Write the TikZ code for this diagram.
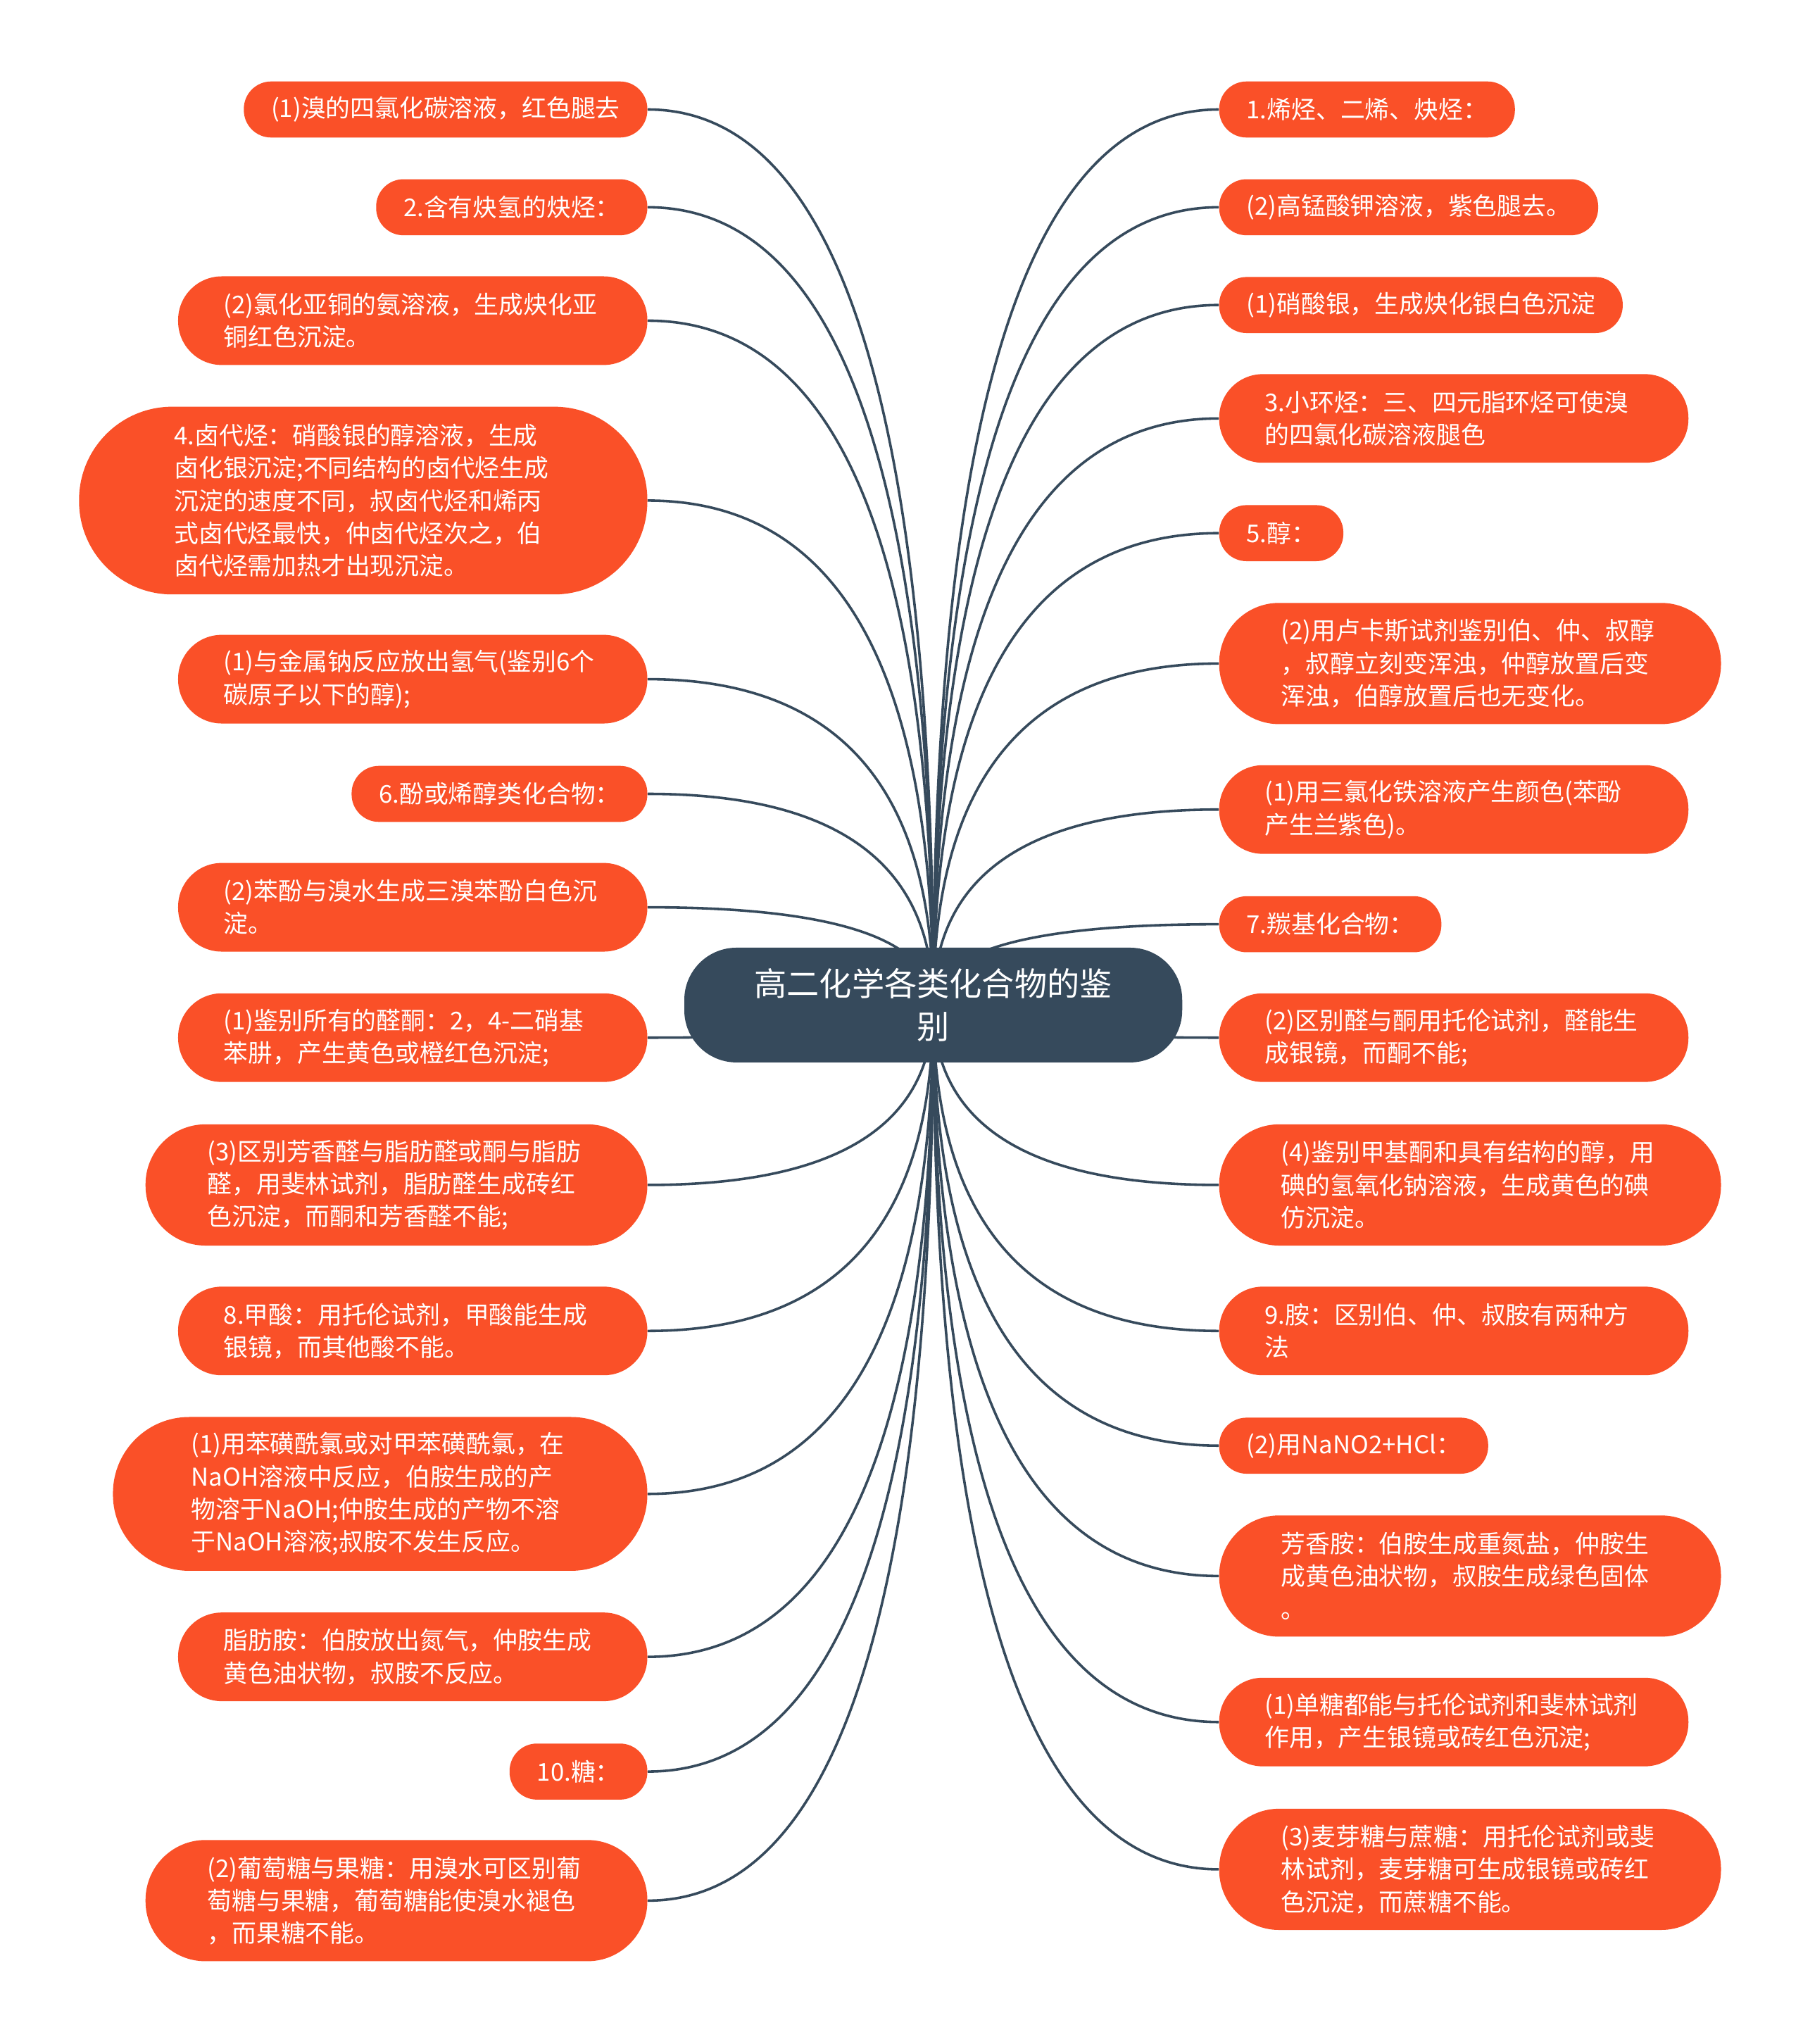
\documentclass[tikz,border=0pt]{standalone}
\usepackage{fontspec}
\setmainfont{Noto Sans CJK SC}
\usepackage{tikz}
\usetikzlibrary{calc,backgrounds}
\definecolor{leaforange}{HTML}{FA5028}
\definecolor{rootslate}{HTML}{364A5C}

\begin{document}
\begin{tikzpicture}[
    root/.style={rectangle, fill=rootslate, text=white, rounded corners=0.8cm, minimum width=7.64cm, minimum height=1.76cm, align=center, font=\fontsize{14.2pt}{18.8pt}\selectfont},
    leaf/.style={rectangle, fill=leaforange, text=white, align=left, inner ysep=0pt, font=\fontsize{10.7pt}{14.2pt}\selectfont},
    one/.style={leaf, minimum height=0.86cm, rounded corners=0.42cm, inner xsep=0.42cm},
    two/.style={leaf, minimum height=1.36cm, rounded corners=0.67cm, inner xsep=0.7cm, text width=5.8cm},
    three/.style={leaf, minimum height=1.86cm, rounded corners=0.92cm, inner xsep=0.95cm, text width=5.8cm},
    four/.style={leaf, minimum height=2.36cm, rounded corners=1.17cm, inner xsep=1.2cm, text width=5.8cm},
    five/.style={leaf, minimum height=2.88cm, rounded corners=1.43cm, inner xsep=1.46cm, text width=5.8cm},
    link/.style={draw=rootslate, line width=1.1pt, to path={.. controls ($(\tikztostart)!0.667!(\tikztostart |- \tikztotarget)$) and ($(\tikztotarget)!0.667!(\tikztostart |- \tikztotarget)$) .. (\tikztotarget)}}
]
    \useasboundingbox (0,0) rectangle (27.66,-31.36);

    \node[root] (root) at (14.32,-15.42) {高二化学各类化合物的鉴\\别};

    % left branch
    \node[one, anchor=east] (l1) at (9.94,-1.68) {(1)溴的四氯化碳溶液，红色腿去};
    \node[one, anchor=east] (l2) at (9.94,-3.18) {2.含有炔氢的炔烃：};
    \node[two, anchor=east] (l3) at (9.94,-4.92) {(2)氯化亚铜的氨溶液，生成炔化亚\\铜红色沉淀。};
    \node[five, anchor=east] (l4) at (9.94,-7.68) {4.卤代烃：硝酸银的醇溶液，生成\\卤化银沉淀;不同结构的卤代烃生成\\沉淀的速度不同，叔卤代烃和烯丙\\式卤代烃最快，仲卤代烃次之，伯\\卤代烃需加热才出现沉淀。};
    \node[two, anchor=east] (l5) at (9.94,-10.42) {(1)与金属钠反应放出氢气(鉴别6个\\碳原子以下的醇);};
    \node[one, anchor=east] (l6) at (9.94,-12.18) {6.酚或烯醇类化合物：};
    \node[two, anchor=east] (l7) at (9.94,-13.92) {(2)苯酚与溴水生成三溴苯酚白色沉\\淀。};
    \node[two, anchor=east] (l8) at (9.94,-15.92) {(1)鉴别所有的醛酮：2，4-二硝基\\苯肼，产生黄色或橙红色沉淀;};
    \node[three, anchor=east] (l9) at (9.94,-18.18) {(3)区别芳香醛与脂肪醛或酮与脂肪\\醛，用斐林试剂，脂肪醛生成砖红\\色沉淀，而酮和芳香醛不能;};
    \node[two, anchor=east] (l10) at (9.94,-20.42) {8.甲酸：用托伦试剂，甲酸能生成\\银镜，而其他酸不能。};
    \node[four, anchor=east] (l11) at (9.94,-22.92) {(1)用苯磺酰氯或对甲苯磺酰氯，在\\NaOH溶液中反应，伯胺生成的产\\物溶于NaOH;仲胺生成的产物不溶\\于NaOH溶液;叔胺不发生反应。};
    \node[two, anchor=east] (l12) at (9.94,-25.42) {脂肪胺：伯胺放出氮气，仲胺生成\\黄色油状物，叔胺不反应。};
    \node[one, anchor=east] (l13) at (9.94,-27.18) {10.糖：};
    \node[three, anchor=east] (l14) at (9.94,-29.16) {(2)葡萄糖与果糖：用溴水可区别葡\\萄糖与果糖，葡萄糖能使溴水褪色\\，而果糖不能。};

    % right branch
    \node[one, anchor=west] (r1) at (18.70,-1.68) {1.烯烃、二烯、炔烃：};
    \node[one, anchor=west] (r2) at (18.70,-3.18) {(2)高锰酸钾溶液，紫色腿去。};
    \node[one, anchor=west] (r3) at (18.70,-4.68) {(1)硝酸银，生成炔化银白色沉淀};
    \node[two, anchor=west] (r4) at (18.70,-6.42) {3.小环烃：三、四元脂环烃可使溴\\的四氯化碳溶液腿色};
    \node[one, anchor=west] (r5) at (18.70,-8.18) {5.醇：};
    \node[three, anchor=west] (r6) at (18.70,-10.18) {(2)用卢卡斯试剂鉴别伯、仲、叔醇\\，叔醇立刻变浑浊，仲醇放置后变\\浑浊，伯醇放置后也无变化。};
    \node[two, anchor=west] (r7) at (18.70,-12.42) {(1)用三氯化铁溶液产生颜色(苯酚\\产生兰紫色)。};
    \node[one, anchor=west] (r8) at (18.70,-14.18) {7.羰基化合物：};
    \node[two, anchor=west] (r9) at (18.70,-15.92) {(2)区别醛与酮用托伦试剂，醛能生\\成银镜，而酮不能;};
    \node[three, anchor=west] (r10) at (18.70,-18.18) {(4)鉴别甲基酮和具有结构的醇，用\\碘的氢氧化钠溶液，生成黄色的碘\\仿沉淀。};
    \node[two, anchor=west] (r11) at (18.70,-20.42) {9.胺：区别伯、仲、叔胺有两种方\\法};
    \node[one, anchor=west] (r12) at (18.70,-22.18) {(2)用NaNO2+HCl：};
    \node[three, anchor=west] (r13) at (18.70,-24.18) {芳香胺：伯胺生成重氮盐，仲胺生\\成黄色油状物，叔胺生成绿色固体\\。};
    \node[two, anchor=west] (r14) at (18.70,-26.42) {(1)单糖都能与托伦试剂和斐林试剂\\作用，产生银镜或砖红色沉淀;};
    \node[three, anchor=west] (r15) at (18.70,-28.68) {(3)麦芽糖与蔗糖：用托伦试剂或斐\\林试剂，麦芽糖可生成银镜或砖红\\色沉淀，而蔗糖不能。};

    \begin{scope}[on background layer]
    \draw[link] (root.center) to (l1.east);
    \draw[link] (root.center) to (l2.east);
    \draw[link] (root.center) to (l3.east);
    \draw[link] (root.center) to (l4.east);
    \draw[link] (root.center) to (l5.east);
    \draw[link] (root.center) to (l6.east);
    \draw[link] (root.center) to (l7.east);
    \draw[link] (root.center) to (l8.east);
    \draw[link] (root.center) to (l9.east);
    \draw[link] (root.center) to (l10.east);
    \draw[link] (root.center) to (l11.east);
    \draw[link] (root.center) to (l12.east);
    \draw[link] (root.center) to (l13.east);
    \draw[link] (root.center) to (l14.east);
    \draw[link] (root.center) to (r1.west);
    \draw[link] (root.center) to (r2.west);
    \draw[link] (root.center) to (r3.west);
    \draw[link] (root.center) to (r4.west);
    \draw[link] (root.center) to (r5.west);
    \draw[link] (root.center) to (r6.west);
    \draw[link] (root.center) to (r7.west);
    \draw[link] (root.center) to (r8.west);
    \draw[link] (root.center) to (r9.west);
    \draw[link] (root.center) to (r10.west);
    \draw[link] (root.center) to (r11.west);
    \draw[link] (root.center) to (r12.west);
    \draw[link] (root.center) to (r13.west);
    \draw[link] (root.center) to (r14.west);
    \draw[link] (root.center) to (r15.west);
    \end{scope}
\end{tikzpicture}
\end{document}
